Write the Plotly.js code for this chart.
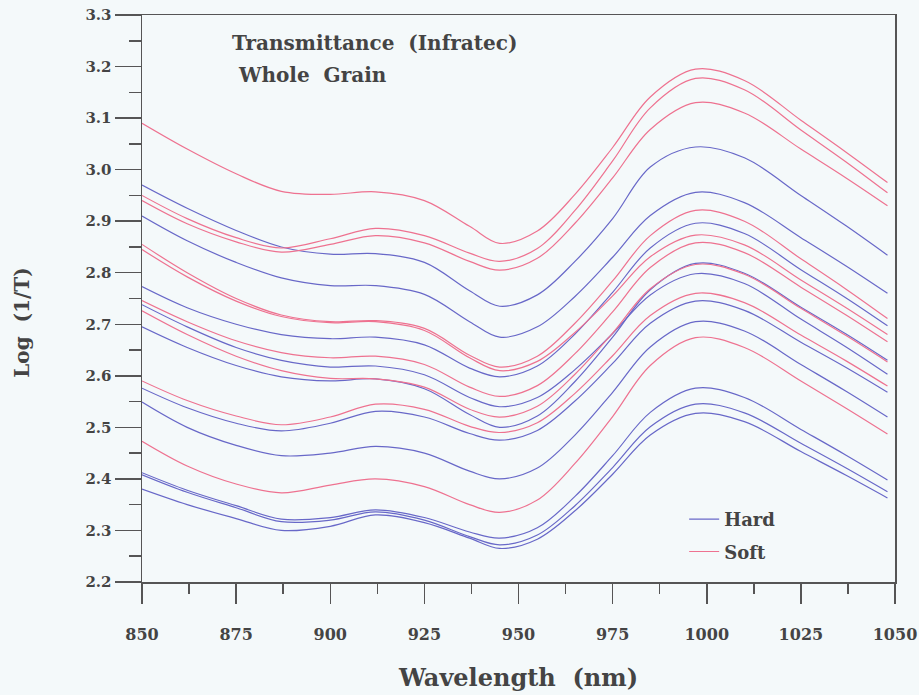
<!DOCTYPE html>
<html>
<head>
<meta charset="utf-8">
<script src="https://cdn.plot.ly/plotly-3.0.1.min.js"></script>
<style>html,body{margin:0;padding:0;background:#f4f9fa;}#chart{width:919px;height:695px;}</style>
</head>
<body>
<div id="chart"></div>
<script>
// Wavelength grid (nm)
const wavelength = [850, 862, 875, 887, 900, 912, 925, 937, 945, 955, 965, 975, 985, 997, 1010, 1025, 1037, 1048];

// Hard wheat spectra, Log(1/T)
const hard1 = [2.970, 2.925, 2.882, 2.850, 2.836, 2.837, 2.820, 2.765, 2.735, 2.757, 2.822, 2.905, 3.005, 3.044, 3.023, 2.950, 2.891, 2.834];
const hard2 = [2.910, 2.862, 2.820, 2.790, 2.775, 2.775, 2.758, 2.705, 2.675, 2.695, 2.754, 2.830, 2.911, 2.956, 2.936, 2.868, 2.813, 2.760];
const hard3 = [2.773, 2.732, 2.700, 2.680, 2.672, 2.675, 2.660, 2.615, 2.598, 2.619, 2.681, 2.762, 2.848, 2.896, 2.876, 2.806, 2.751, 2.697];
const hard4 = [2.738, 2.695, 2.655, 2.630, 2.617, 2.619, 2.602, 2.558, 2.540, 2.558, 2.612, 2.682, 2.757, 2.798, 2.779, 2.710, 2.656, 2.603];
const hard5 = [2.695, 2.655, 2.620, 2.598, 2.590, 2.594, 2.575, 2.525, 2.500, 2.522, 2.589, 2.675, 2.767, 2.818, 2.799, 2.733, 2.681, 2.630];
const hard6 = [2.576, 2.538, 2.508, 2.493, 2.508, 2.531, 2.520, 2.488, 2.475, 2.494, 2.551, 2.624, 2.702, 2.745, 2.727, 2.665, 2.616, 2.568];
const hard7 = [2.549, 2.500, 2.465, 2.445, 2.450, 2.463, 2.450, 2.415, 2.400, 2.421, 2.485, 2.568, 2.656, 2.705, 2.687, 2.622, 2.570, 2.520];
const hard8 = [2.412, 2.378, 2.348, 2.322, 2.325, 2.340, 2.325, 2.297, 2.285, 2.305, 2.366, 2.445, 2.529, 2.576, 2.558, 2.496, 2.446, 2.398];
const hard9 = [2.408, 2.374, 2.344, 2.317, 2.320, 2.336, 2.320, 2.288, 2.272, 2.291, 2.348, 2.422, 2.501, 2.545, 2.528, 2.469, 2.421, 2.375];
const hard10 = [2.380, 2.350, 2.323, 2.300, 2.308, 2.330, 2.315, 2.285, 2.265, 2.283, 2.338, 2.409, 2.485, 2.527, 2.511, 2.453, 2.407, 2.363];

// Soft wheat spectra, Log(1/T)
const soft1 = [3.090, 3.040, 2.992, 2.958, 2.952, 2.957, 2.940, 2.890, 2.857, 2.881, 2.952, 3.043, 3.141, 3.195, 3.173, 3.096, 3.034, 2.975];
const soft2 = [2.950, 2.905, 2.868, 2.848, 2.866, 2.886, 2.872, 2.838, 2.822, 2.847, 2.921, 3.017, 3.120, 3.177, 3.155, 3.077, 3.015, 2.955];
const soft3 = [2.940, 2.895, 2.860, 2.840, 2.855, 2.872, 2.858, 2.822, 2.805, 2.828, 2.896, 2.984, 3.078, 3.130, 3.110, 3.040, 2.984, 2.930];
const soft4 = [2.855, 2.800, 2.750, 2.718, 2.705, 2.707, 2.692, 2.640, 2.617, 2.638, 2.702, 2.784, 2.872, 2.921, 2.900, 2.827, 2.768, 2.711];
const soft5 = [2.845, 2.792, 2.745, 2.715, 2.703, 2.705, 2.688, 2.635, 2.610, 2.628, 2.684, 2.755, 2.831, 2.873, 2.854, 2.786, 2.732, 2.680];
const soft6 = [2.746, 2.705, 2.668, 2.645, 2.635, 2.638, 2.622, 2.578, 2.560, 2.581, 2.643, 2.724, 2.810, 2.858, 2.839, 2.772, 2.718, 2.666];
const soft7 = [2.726, 2.680, 2.638, 2.610, 2.595, 2.594, 2.578, 2.535, 2.520, 2.541, 2.603, 2.683, 2.769, 2.816, 2.797, 2.731, 2.678, 2.627];
const soft8 = [2.590, 2.552, 2.522, 2.505, 2.520, 2.545, 2.535, 2.502, 2.490, 2.509, 2.566, 2.639, 2.717, 2.760, 2.742, 2.679, 2.629, 2.580];
const soft9 = [2.473, 2.425, 2.390, 2.373, 2.388, 2.400, 2.385, 2.350, 2.335, 2.359, 2.430, 2.521, 2.620, 2.674, 2.655, 2.590, 2.537, 2.487];

const hardSeries = [hard1, hard2, hard3, hard4, hard5, hard6, hard7, hard8, hard9, hard10];
const softSeries = [soft1, soft2, soft3, soft4, soft5, soft6, soft7, soft8, soft9];

const HARD = '#6868c8';
const SOFT = '#ee7290';
const FONT = 'DejaVu Serif, Liberation Serif, serif';
const TXT = '#444444';

const traces = [];
hardSeries.forEach((s, i) => traces.push({
  x: wavelength, y: s, type: 'scatter', mode: 'lines', name: 'Hard',
  legendgroup: 'hard', showlegend: i === 0,
  line: {color: HARD, width: 1.2, shape: 'spline', smoothing: 1}
}));
softSeries.forEach((s, i) => traces.push({
  x: wavelength, y: s, type: 'scatter', mode: 'lines', name: 'Soft',
  legendgroup: 'soft', showlegend: i === 0,
  line: {color: SOFT, width: 1.2, shape: 'spline', smoothing: 1}
}));

const layout = {
  width: 919, height: 695,
  margin: {l: 142, r: 24, t: 15, b: 113},
  paper_bgcolor: '#f4f9fa', plot_bgcolor: '#f4f9fa',
  font: {family: FONT, color: TXT},
  showlegend: true,
  legend: {
    x: 0.72, y: 0.143, xanchor: 'left', yanchor: 'top',
    bgcolor: 'rgba(0,0,0,0)', tracegroupgap: 6,
    font: {family: FONT, size: 18, color: TXT, weight: 'bold'}
  },
  xaxis: {
    range: [850, 1050], tick0: 850, dtick: 25,
    ticks: 'outside', ticklen: 20, tickwidth: 1.5, tickcolor: '#555',
    minor: {dtick: 12.5, ticks: 'outside', ticklen: 10, tickwidth: 1.5, tickcolor: '#555'},
    showline: true, mirror: true, linecolor: '#555', linewidth: 1.5,
    showgrid: false, zeroline: false,
    ticklabelstandoff: 17,
    tickfont: {family: FONT, size: 16, color: TXT, weight: 'bold'},
    title: {text: 'Wavelength  (nm)', standoff: 26, font: {family: FONT, size: 24, color: TXT, weight: 'bold'}}
  },
  yaxis: {
    range: [2.1999, 3.3001], tick0: 2.2, dtick: 0.1, tickformat: '.1f',
    ticks: 'outside', ticklen: 26, tickwidth: 1.5, tickcolor: '#555',
    minor: {dtick: 0.05, ticks: 'outside', ticklen: 12, tickwidth: 1.5, tickcolor: '#555'},
    showline: true, mirror: true, linecolor: '#555', linewidth: 1.5,
    showgrid: false, zeroline: false,
    tickfont: {family: FONT, size: 15, color: TXT, weight: 'bold'}
  },
  annotations: [
    {xref: 'paper', yref: 'paper', x: 0.117, y: 0.951, xanchor: 'left', yanchor: 'middle', showarrow: false,
     text: 'Transmittance  (Infratec)', font: {family: FONT, size: 20, color: TXT, weight: 'bold'}},
    {xref: 'paper', yref: 'paper', x: 0.125, y: 0.894, xanchor: 'left', yanchor: 'middle', showarrow: false,
     text: 'Whole  Grain', font: {family: FONT, size: 20, color: TXT, weight: 'bold'}},
    {xref: 'paper', yref: 'paper', x: -0.1596, y: 0.457, xanchor: 'center', yanchor: 'middle', showarrow: false,
     textangle: -90, text: 'Log  (1/T)', font: {family: FONT, size: 20, color: TXT, weight: 'bold'}}
  ]
};

Plotly.newPlot('chart', traces, layout, {displayModeBar: false, staticPlot: true});
</script>
</body>
</html>
